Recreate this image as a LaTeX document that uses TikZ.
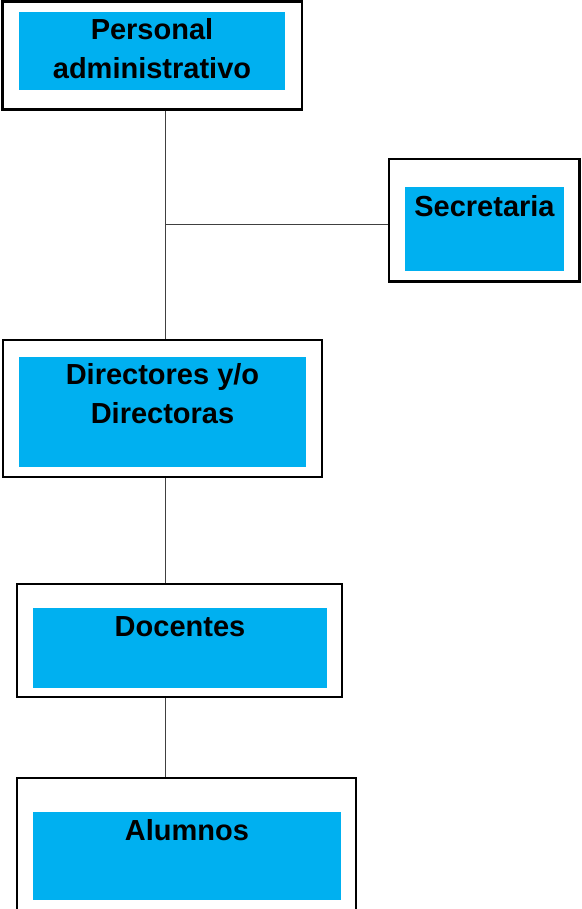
\documentclass[tikz,border=0pt]{standalone}
\usepackage{fontspec}
\newfontfamily\boxfont{Liberation Sans}
\usetikzlibrary{positioning}
\definecolor{boxblue}{HTML}{00B0F0}

\begin{document}
\begin{tikzpicture}[
    x=1pt, y=-1pt,
    outerbox/.style={draw=black,line width=2.5pt,fill=white,rectangle,inner sep=0pt},
    bluebox/.style={fill=boxblue,rectangle,inner sep=0pt},
    boxtext/.style={inner sep=0pt,align=center,font=\boxfont\bfseries\fontsize{29}{39}\selectfont},
    link/.style={draw=black!75,line width=1pt}
]
\clip (0,0) rectangle (581,909);
\fill[white] (0,0) rectangle (581,909);

% 外框
\node[outerbox,minimum width=299.5pt,minimum height=108pt] (personal) at (152.25,55.5) {};
\node[outerbox,minimum width=190.5pt,minimum height=122.5pt] (secretaria) at (484.25,220.25) {};
\node[outerbox,minimum width=319pt,minimum height=137pt] (directores) at (162.5,408.5) {};
\node[outerbox,minimum width=325pt,minimum height=113pt] (docentes) at (179.5,640.5) {};
\node[outerbox,minimum width=339pt,minimum height=147pt] (alumnos) at (186.5,851.5) {};

% 蓝色框
\node[bluebox,minimum width=266pt,minimum height=78pt] (personalfill) at (152,51) {};
\node[bluebox,minimum width=159pt,minimum height=84pt] (secretariafill) at (484.5,229) {};
\node[bluebox,minimum width=287pt,minimum height=110pt] (directoresfill) at (162.5,412) {};
\node[bluebox,minimum width=294pt,minimum height=80pt] (docentesfill) at (180,648) {};
\node[bluebox,minimum width=308pt,minimum height=88pt] (alumnosfill) at (187,856) {};

% 文字
\node[boxtext,below=6pt of personalfill.north] (personaltext) {Personal\\administrativo};
\node[boxtext,below=8pt of secretariafill.north] (secretariatext) {Secretaria};
\node[boxtext,below=6pt of directoresfill.north] (directorestext) {Directores y/o\\Directoras};
\node[boxtext,below=9pt of docentesfill.north] (docentestext) {Docentes};
\node[boxtext,below=7pt of alumnosfill.north] (alumnostext) {Alumnos};

% 连线
\coordinate (spine) at (165,225);
\draw[link] (personal.south -| spine) -- (directores.north -| spine);
\draw[link] (spine) -- (spine -| secretaria.west);
\draw[link] (directores.south -| spine) -- (docentes.north -| spine);
\draw[link] (docentes.south -| spine) -- (alumnos.north -| spine);
\end{tikzpicture}
\end{document}
